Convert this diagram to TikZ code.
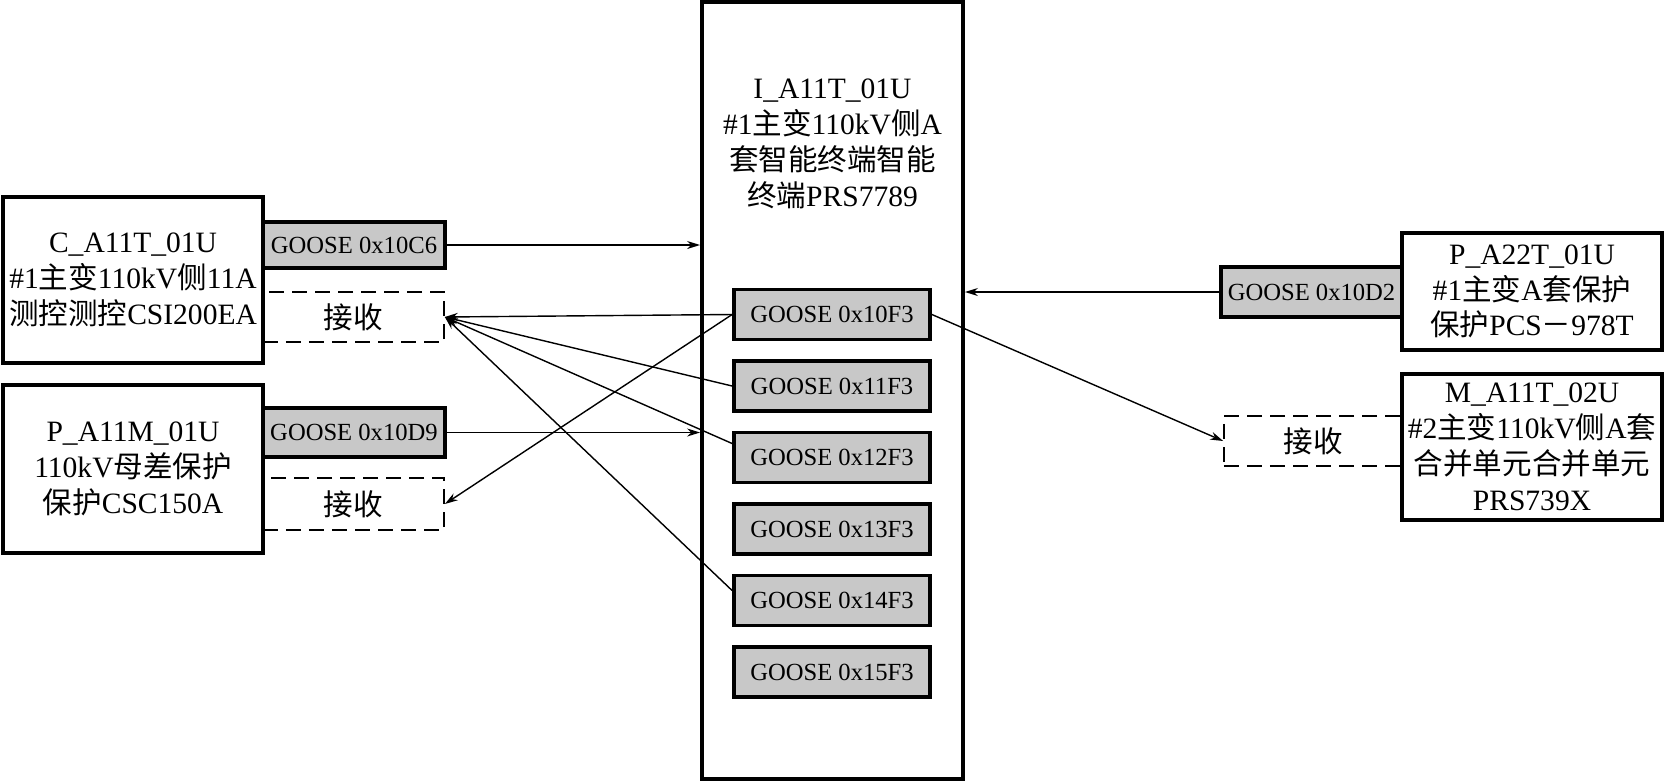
\documentclass[tikz,border=0pt]{standalone}
\usepackage{fontspec}
\setmainfont{Liberation Serif}
\newfontfamily\cjk{Noto Sans CJK SC}
\newcommand{\zh}[1]{{\cjk #1}}
\usetikzlibrary{arrows.meta}
\definecolor{goosegray}{RGB}{200,200,200}
\newcommand{\devfont}{\fontsize{8.4pt}{10.2pt}\selectfont}
\newcommand{\goosefont}{\fontsize{7pt}{8pt}\selectfont}

\begin{document}
\begin{tikzpicture}[x=0.01cm,y=-0.01cm]
		\useasboundingbox (0,0) rectangle (1664,781);
		
		% receive boxes first, the device edges go over them
		\begin{scope}[every node/.style={rectangle,draw,dash pattern=on 0.15cm off 0.08cm,line width=0.45pt,inner sep=0pt,font=\devfont,minimum height=0.5cm}]
			\node[minimum width=1.81cm] (rC) at (353.5,317) {\zh{接收}};
			\node[minimum width=1.81cm,minimum height=0.52cm] (rP) at (353.5,504) {\zh{接收}};
			\node[minimum width=1.78cm] (rM) at (1313,441) {\zh{接收}};
		\end{scope}
		
		\begin{scope}[every node/.style={rectangle,draw,line width=1.05pt,fill=goosegray,inner sep=0pt,font=\goosefont,minimum height=0.5cm}]
			\node[minimum width=1.82cm,minimum height=0.46cm] (gC6) at (354,245) {GOOSE 0x10C6};
			\node[minimum width=1.82cm,minimum height=0.49cm] (gD9) at (354,432.5) {GOOSE 0x10D9};
			\node[minimum width=1.81cm] (gD2) at (1311.5,292) {GOOSE 0x10D2};
		\end{scope}
		
		\begin{scope}[every node/.style={rectangle,draw,line width=1.05pt,align=center,inner sep=0pt,font=\devfont}]
			\node[minimum width=2.6cm,minimum height=1.66cm] (CA) at (133,280) {C\_A11T\_01U\\
				\#1\zh{主变}110kV\zh{侧}11A\\
				\zh{测控测控}CSI200EA};
			\node[minimum width=2.6cm,minimum height=1.68cm] (PA) at (133,469) {P\_A11M\_01U\\
				110kV\zh{母差保护}\\
				\zh{保护}CSC150A};
			\node[minimum width=2.6cm,minimum height=1.17cm] (PB) at (1532,291.5) {P\_A22T\_01U\\
				\#1\zh{主变}A\zh{套保护}\\
				\zh{保护}PCS\zh{－}978T};
			\node[minimum width=2.6cm,minimum height=1.46cm] (MA) at (1532,447) {M\_A11T\_02U\\
				\#2\zh{主变}110kV\zh{侧}A\zh{套}\\
				\zh{合并单元合并单元}\\
				PRS739X};
			\node[minimum width=2.61cm,minimum height=7.77cm] (IT) at (832.5,390.5) {};
		\end{scope}
		\node[align=center,inner sep=0pt,font=\devfont] (ITname) at (832.5,144) {I\_A11T\_01U\\
			\#1\zh{主变}110kV\zh{侧}A\\
			\zh{套智能终端智能}\\
			\zh{终端}PRS7789};
		
		\foreach \i/\hex in {0/10,1/11,2/12,3/13,4/14,5/15}
			\node[rectangle,draw,line width=1.05pt,fill=goosegray,inner sep=0pt,font=\goosefont,minimum width=1.96cm,minimum height=0.5cm] (g\hex) at (832,314.5+71.5*\i) {GOOSE 0x\hex F3};
		
		\tikzstyle{arrow} = [line width=0.4pt,-{Stealth[length=1.3mm,width=0.8mm]},color=black]
		\draw [arrow] (gC6.east) -- (gC6 -| IT.west);
		\draw [arrow] (gD9.east) -- (gD9 -| IT.west);
		\draw [arrow] (gD2.west) -- (gD2 -| IT.east);
		
		\draw [arrow] (g10.west) -- (rC.east);
		\draw [arrow] (g10.west) -- (rP.east);
		\draw [arrow] (g11.west) -- (rC.east);
		\draw [arrow] ([yshift=0.14cm]g12.west) -- (rC.east);
		\draw [arrow] ([yshift=0.1cm]g14.west) -- (rC.east);
		\draw [arrow] (g10.east) -- (rM.west);
		
	\end{tikzpicture}
\end{document}
